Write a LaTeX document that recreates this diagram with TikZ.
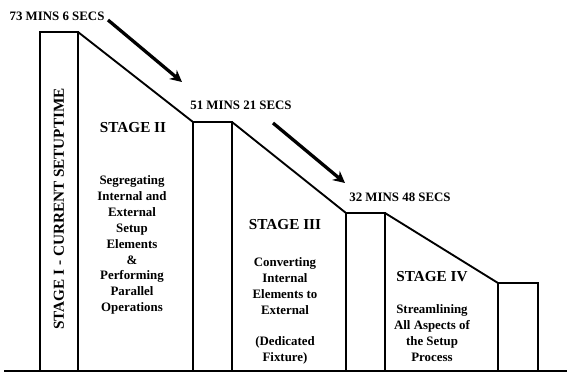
\documentclass[tikz,border=0pt]{standalone}
\usepackage{fontspec}
\setmainfont{Liberation Serif}
\usetikzlibrary{positioning,arrows.meta,calc}

\tikzset{
  bar/.style={line width=1.6pt},
  slope/.style={line width=1.6pt},
  timelbl/.style={font=\fontsize{11}{13}\selectfont\bfseries},
  stagettl/.style={font=\fontsize{13}{15}\selectfont\bfseries},
  stagetxt/.style={font=\fontsize{11}{13.6}\selectfont\bfseries,align=center},
  dropar/.style={line width=2.8pt,-{Stealth[length=10pt,width=10pt]}}
}

\begin{document}
\begin{tikzpicture}[x=0.3mm,y=-0.3mm]
  \useasboundingbox (0,0) rectangle (567,374);
  % ground line
  \draw[line width=1.6pt] (4,371)--(567,371);
  % bars, one per stage
  \foreach \n/\xl/\xr/\yt in {a/40/78/32, b/193/232/122, c/346/385/213, d/498/538/283}{
    \draw[bar] (\xl,371)--(\xl,\yt)--(\xr,\yt)--(\xr,371);
    \coordinate (\n l) at (\xl,\yt);
    \coordinate (\n r) at (\xr,\yt);
  }
  \draw[slope] (ar)--(bl);
  \draw[slope] (br)--(cl);
  \draw[slope] (cr)--(dl);

  \node[timelbl] (t1) at (57,16){73 MINS 6 SECS};
  \node[timelbl] (t2) at (241,105){51 MINS 21 SECS};
  \node[timelbl] (t3) at (400,197){32 MINS 48 SECS};
  \coordinate (p1) at (108,20);
  \coordinate (q1) at (182,82);
  \coordinate (p2) at (273,123);
  \coordinate (q2) at (345,183);
  \draw[dropar] (p1)--(q1);
  \draw[dropar] (p2)--(q2);

  \node[stagettl,rotate=90] (s1) at (59,209){STAGE I - CURRENT SETUPTIME};
  \node[stagettl] (s2) at (133,128){STAGE II};
  \node[stagetxt] (d2) at (132,245){Segregating\\Internal and\\External\\Setup\\Elements\\\&\\Performing\\Parallel\\Operations};
  \node[stagettl] (s3) at (285,225){STAGE III};
  \node[stagetxt] (d3) at (285,311){Converting\\Internal\\Elements to\\External\\[13.6pt](Dedicated\\Fixture)};
  \node[stagettl] (s4) at (432,277){STAGE IV};
  \node[stagetxt] (d4) at (432,333){Streamlining\\All Aspects of\\the Setup\\Process};
\end{tikzpicture}
\end{document}
